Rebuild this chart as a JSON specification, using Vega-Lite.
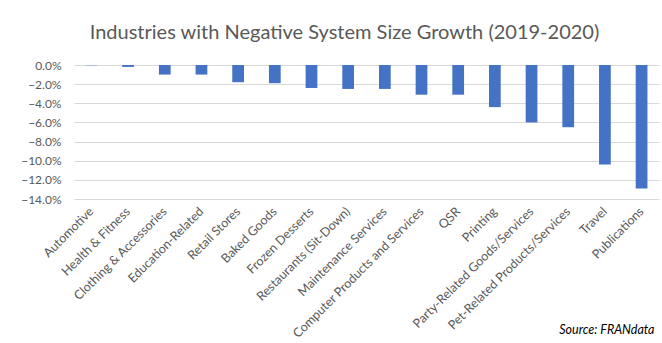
{
  "$schema": "https://vega.github.io/schema/vega-lite/v6.json",
  "width": 585,
  "height": 134,
  "padding": {"left": 20, "top": 23, "right": 4, "bottom": 0},
  "background": "white",
  "title": {
    "text": "Industries with Negative System Size Growth (2019-2020)",
    "font": "Lato",
    "fontSize": 20,
    "fontWeight": "normal",
    "color": "#595959",
    "anchor": "middle",
    "dx": -22,
    "offset": 16
  },
  "data": {
    "values": [
      {"industry": "Automotive", "growth": -0.0003},
      {"industry": "Health & Fitness", "growth": -0.002},
      {"industry": "Clothing & Accessories", "growth": -0.010},
      {"industry": "Education-Related", "growth": -0.010},
      {"industry": "Retail Stores", "growth": -0.018},
      {"industry": "Baked Goods", "growth": -0.019},
      {"industry": "Frozen Desserts", "growth": -0.024},
      {"industry": "Restaurants (Sit-Down)", "growth": -0.025},
      {"industry": "Maintenance Services", "growth": -0.025},
      {"industry": "Computer Products and Services", "growth": -0.031},
      {"industry": "QSR", "growth": -0.031},
      {"industry": "Printing", "growth": -0.044},
      {"industry": "Party-Related Goods/Services", "growth": -0.060},
      {"industry": "Pet-Related Products/Services", "growth": -0.065},
      {"industry": "Travel", "growth": -0.104},
      {"industry": "Publications", "growth": -0.129}
    ]
  },
  "mark": {"type": "bar", "color": "#4472C4"},
  "encoding": {
    "x": {
      "field": "industry",
      "type": "nominal",
      "sort": null,
      "scale": {"paddingInner": 0.68, "paddingOuter": 0.315},
      "axis": {
        "title": "Source: FRANdata",
        "titleFont": "Lato",
        "titleFontSize": 12.5,
        "titleFontStyle": "italic",
        "titleFontWeight": "normal",
        "titleColor": "#000000",
        "titleAlign": "right",
        "titleBaseline": "middle",
        "titleX": 580,
        "titleY": 130,
        "labelAngle": -45,
        "labelAlign": "right",
        "labelBaseline": "middle",
        "labelFont": "Lato",
        "labelFontSize": 12.5,
        "labelLimit": 300,
        "labelColor": "#595959",
        "labelPadding": 10,
        "labelOverlap": false,
        "ticks": false,
        "domain": false,
        "grid": false
      }
    },
    "y": {
      "field": "growth",
      "type": "quantitative",
      "scale": {"domain": [-0.14, 0], "nice": false},
      "axis": {
        "title": null,
        "format": ".1%",
        "values": [0, -0.02, -0.04, -0.06, -0.08, -0.10, -0.12, -0.14],
        "labelFont": "Lato",
        "labelFontSize": 12,
        "labelColor": "#595959",
        "labelPadding": 13,
        "ticks": false,
        "domain": false,
        "grid": true,
        "gridColor": "#d9d9d9",
        "gridWidth": 1
      }
    }
  },
  "config": {
    "view": {"stroke": null}
  }
}
